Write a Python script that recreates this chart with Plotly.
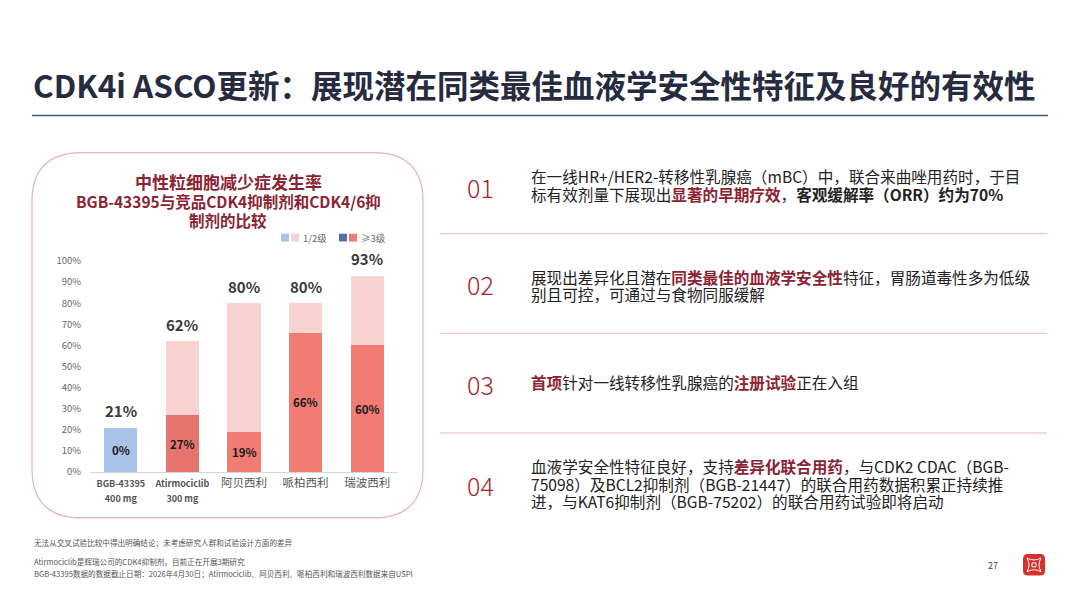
import plotly.graph_objects as go

W, H = 1080, 607
FONT = "Noto Sans CJK SC"

# chart data (neutropenia incidence, %)
drugs = ["BGB-43395 400 mg", "Atirmociclib 300 mg", "阿贝西利", "哌柏西利", "瑞波西利"]
tick_labels = [
    "<b><span style='font-size:9px'>BGB-43395<br>400 mg</span></b>",
    "<b><span style='font-size:9px'>Atirmociclib<br>300 mg</span></b>",
    "阿贝西利", "哌柏西利", "瑞波西利",
]
any_grade = [21, 62, 80, 80, 93]
grade3_plus = [0, 27, 19, 66, 60]
grade12 = [a - g for a, g in zip(any_grade, grade3_plus)]
y_ticks = list(range(0, 101, 10))

g3_colors = ["#f07c74", "#e5746e", "#f07c74", "#f07c74", "#f07c74"]
g12_colors = ["#a9c3e9", "#f8d3d1", "#f8d3d1", "#f8d3d1", "#f8d3d1"]

title = "CDK4i ASCO更新：展现潜在同类最佳血液学安全性特征及良好的有效性"
chart_title = ["中性粒细胞减少症发生率", "BGB-43395与竞品CDK4抑制剂和CDK4/6抑", "制剂的比较"]

HL = "#8c2332"
points = [
    ("01", ["在一线HR+/HER2-转移性乳腺癌（mBC）中，联合来曲唑用药时，于目",
            f"标有效剂量下展现出<b><span style='color:{HL}'>显著的早期疗效</span></b>，<b>客观缓解率（ORR）约为70%</b>"]),
    ("02", [f"展现出差异化且潜在<b><span style='color:{HL}'>同类最佳的血液学安全性</span></b>特征，胃肠道毒性多为低级",
            "别且可控，可通过与食物同服缓解"]),
    ("03", [f"<b><span style='color:{HL}'>首项</span></b>针对一线转移性乳腺癌的<b><span style='color:{HL}'>注册试验</span></b>正在入组"]),
    ("04", [f"血液学安全性特征良好，支持<b><span style='color:{HL}'>差异化联合用药</span></b>，与CDK2 CDAC（BGB-",
            "75098）及BCL2抑制剂（BGB-21447）的联合用药数据积累正持续推",
            "进，与KAT6抑制剂（BGB-75202）的联合用药试验即将启动"]),
]
footnotes = [
    "无法从交叉试验比较中得出明确结论；未考虑研究人群和试验设计方面的差异",
    "Atirmociclib是辉瑞公司的CDK4抑制剂，目前正在开展3期研究",
    "BGB-43395数据的数据截止日期：2026年4月30日；Atirmociclib、阿贝西利、哌柏西利和瑞波西利数据来自USPI",
]


def px(x):
    return x / W


def py(y):
    return 1 - y / H


def text(x, y, t, size, color, xanchor="left", weight=None):
    f = dict(size=size, color=color, family=FONT)
    if weight:
        f["weight"] = weight
    return dict(x=px(x), y=py(y), xref="paper", yref="paper", text=t, showarrow=False,
                xanchor=xanchor, yanchor="middle", font=f)


fig = go.Figure()
fig.add_trace(go.Bar(x=drugs, y=grade3_plus, marker=dict(color=g3_colors, line_width=0),
                     hoverinfo="skip", showlegend=False))
fig.add_trace(go.Bar(x=drugs, y=grade12, marker=dict(color=g12_colors, line_width=0),
                     hoverinfo="skip", showlegend=False))

ann = []
# totals above bars
for d, a in zip(drugs, any_grade):
    ann.append(dict(x=d, y=a, xref="x", yref="y", text=f"<b>{a}%</b>", showarrow=False,
                    xanchor="center", yanchor="middle", yshift=17,
                    font=dict(size=15, color="#3a3a3a", family=FONT)))
# grade >=3 labels inside bars
for d, a, g in zip(drugs, any_grade, grade3_plus):
    yy = g / 2 if g > 0 else a / 2
    ann.append(dict(x=d, y=yy, xref="x", yref="y", text=f"<b>{g}%</b>", showarrow=False,
                    xanchor="center", yanchor="middle",
                    font=dict(size=11.5, color="#1a1a1a", family=FONT)))

# chart title
ann.append(text(228, 178, f"<b>{chart_title[0]}</b>", 17, HL, "center"))
for i, t in enumerate(chart_title[1:]):
    ann.append(text(228, 198 + 19 * i, f"<b>{t}</b>", 15.5, HL, "center"))

# legend text
ann.append(text(301, 235, "1/2级", 9.5, "#666"))
ann.append(text(359, 235, "≥3级", 9.5, "#666"))

# main title
ann.append(text(31, 78, f"<b>{title}</b>", 31.5, "#262b40"))

# right side points
num_y = [183, 283, 385, 488]
line_y = [[172, 190], [275, 293], [383], [469, 487, 505]]
for (num, lines), ny, ly in zip(points, num_y, line_y):
    ann.append(text(480, ny, num, 25, "#a3262b", "center", weight=300))
    for t, yy in zip(lines, ly):
        ann.append(text(529, yy, t, 15.6, "#222"))

# footnotes
for t, yy in zip(footnotes, [547, 567, 579]):
    ann.append(text(32, yy, t, 7.6, "#555"))

ann.append(text(993, 571, "27", 9, "#444", "center"))

shapes = []
# title underline
shapes.append(dict(type="line", xref="paper", yref="paper", x0=px(32), x1=px(1048), y0=py(110), y1=py(110),
                   line=dict(color="#3f5b74", width=1.5)))
# separators
for yy in [231, 333, 435]:
    shapes.append(dict(type="line", xref="paper", yref="paper", x0=px(440), x1=px(1047), y0=py(yy), y1=py(yy),
                       line=dict(color="#e9b9c1", width=1)))


def rounded(x0, y0, x1, y1, r):
    return (f"M {px(x0 + r)},{py(y0)} L {px(x1 - r)},{py(y0)} Q {px(x1)},{py(y0)} {px(x1)},{py(y0 + r)} "
            f"L {px(x1)},{py(y1 - r)} Q {px(x1)},{py(y1)} {px(x1 - r)},{py(y1)} "
            f"L {px(x0 + r)},{py(y1)} Q {px(x0)},{py(y1)} {px(x0)},{py(y1 - r)} "
            f"L {px(x0)},{py(y0 + r)} Q {px(x0)},{py(y0)} {px(x0 + r)},{py(y0)} Z")


# chart panel
shapes.append(dict(type="path", xref="paper", yref="paper", path=rounded(32, 148, 423, 522, 50),
                   line=dict(color="#e4b3bd", width=1.2), fillcolor="rgba(0,0,0,0)", layer="below"))

# legend squares
for x0, c in [(281, "#a9c3e9"), (291, "#f8d3d1"), (339, "#5b6fa3"), (349, "#f07c74")]:
    shapes.append(dict(type="rect", xref="paper", yref="paper", x0=px(x0), x1=px(x0 + 8),
                       y0=py(239), y1=py(231), fillcolor=c, line_width=0))

# logo
shapes.append(dict(type="path", xref="paper", yref="paper", path=rounded(1023, 559, 1045, 581, 5),
                   fillcolor="#d8302b", line_width=0))
cx, cy = 1034, 570
shapes.append(dict(type="path", xref="paper", yref="paper",
                   path=(f"M {px(1027)},{py(563)} Q {px(cx)},{py(567)} {px(1041)},{py(563)} "
                         f"Q {px(1037)},{py(cy)} {px(1041)},{py(577)} "
                         f"Q {px(cx)},{py(573)} {px(1027)},{py(577)} "
                         f"Q {px(1031)},{py(cy)} {px(1027)},{py(563)} Z"),
                   fillcolor="rgba(0,0,0,0)", line=dict(color="white", width=1)))
shapes.append(dict(type="rect", xref="paper", yref="paper", x0=px(1032), x1=px(1036), y0=py(572), y1=py(568),
                   fillcolor="rgba(0,0,0,0)", line=dict(color="white", width=1)))

fig.update_layout(
    width=W, height=H,
    margin=dict(l=0, r=0, t=0, b=0),
    paper_bgcolor="white", plot_bgcolor="white",
    barmode="stack", bargap=0.46,
    font=dict(family=FONT),
    xaxis=dict(domain=[px(90), px(398)], tickmode="array", tickvals=drugs, ticktext=tick_labels,
               tickfont=dict(size=11.5, color="#555"), showline=True, linecolor="#cfd7e6", linewidth=1,
               showgrid=False, ticks=""),
    yaxis=dict(domain=[py(475), py(259)], range=[0, 100], tickmode="array", tickvals=y_ticks,
               ticktext=[f"{v}%" for v in y_ticks], tickfont=dict(size=9.5, color="#666"),
               showgrid=False, zeroline=False, ticklabelstandoff=8),
    annotations=ann,
    shapes=shapes,
)

fig.write_html("out.html", config={"displayModeBar": False},
               post_script="document.body.style.margin='0';")
